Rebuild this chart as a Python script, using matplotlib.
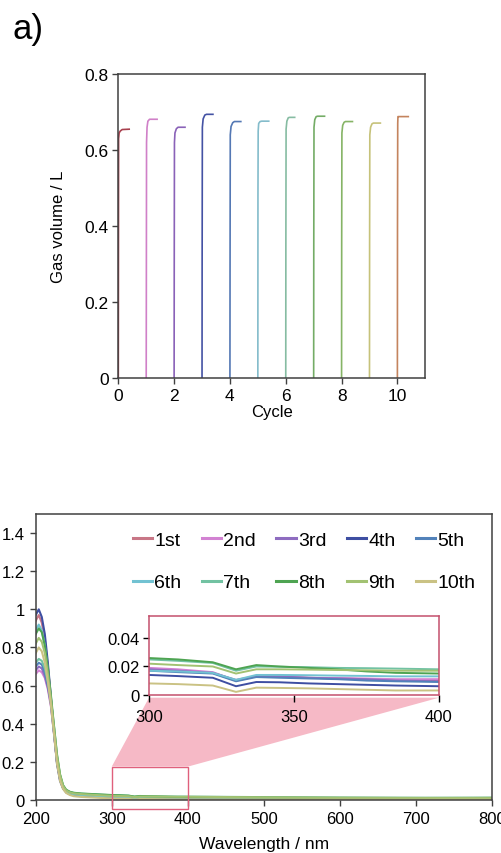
import matplotlib
matplotlib.use("Agg")
import matplotlib.pyplot as plt
from matplotlib.patches import Rectangle, Polygon
from matplotlib.ticker import FuncFormatter

plt.rcParams['font.family'] = ['Liberation Sans', 'DejaVu Sans']

# ---------------- data: panel a (gas volume vs cycle) ----------------
gas_colors = ["#a8404e", "#d080c8", "#8a62b8", "#4452a4", "#5478b4", "#84bccb",
              "#86bca2", "#74ac66", "#86b466", "#c6c27a", "#c4845e"]
gas_x = [
    [0.00, 0.004, 0.010, 0.030, 0.070, 0.140, 0.420],
    [1.00, 1.004, 1.012, 1.030, 1.060, 1.120, 1.420],
    [2.00, 2.004, 2.012, 2.030, 2.080, 2.140, 2.420],
    [3.00, 3.004, 3.012, 3.040, 3.100, 3.160, 3.420],
    [4.00, 4.004, 4.012, 4.040, 4.100, 4.160, 4.420],
    [5.00, 5.004, 5.012, 5.030, 5.080, 5.140, 5.420],
    [6.00, 6.004, 6.012, 6.040, 6.090, 6.140, 6.350],
    [7.00, 7.004, 7.012, 7.040, 7.090, 7.140, 7.420],
    [8.00, 8.004, 8.012, 8.040, 8.090, 8.140, 8.420],
    [9.00, 9.004, 9.012, 9.040, 9.090, 9.140, 9.420],
    [10.00, 10.004, 10.012, 10.020, 10.050, 10.120, 10.420],
]
gas_v = [
    [0.000, 0.280, 0.630, 0.645, 0.650, 0.654, 0.655],
    [0.000, 0.180, 0.620, 0.660, 0.676, 0.681, 0.681],
    [0.000, 0.280, 0.620, 0.645, 0.656, 0.660, 0.660],
    [0.000, 0.310, 0.660, 0.682, 0.692, 0.694, 0.694],
    [0.000, 0.280, 0.640, 0.662, 0.672, 0.675, 0.675],
    [0.000, 0.480, 0.650, 0.670, 0.675, 0.676, 0.676],
    [0.000, 0.350, 0.655, 0.676, 0.685, 0.686, 0.686],
    [0.000, 0.350, 0.660, 0.680, 0.688, 0.689, 0.689],
    [0.000, 0.350, 0.645, 0.665, 0.673, 0.675, 0.675],
    [0.000, 0.340, 0.640, 0.660, 0.669, 0.671, 0.671],
    [0.000, 0.400, 0.670, 0.688, 0.688, 0.688, 0.688],
]
gas_xticks = [0, 2, 4, 6, 8, 10]
gas_yticks = [0, 0.2, 0.4, 0.6, 0.8]

# ---------------- data: UV-vis spectra ----------------
spec_labels = ["1st", "2nd", "3rd", "4th", "5th", "6th", "7th", "8th", "9th", "10th"]
spec_colors = ["#c87686", "#d282d2", "#8e6cc0", "#3e4ea2", "#5282ba",
               "#72c2d2", "#72c2a2", "#4ea452", "#a2c272", "#cac284"]
wavelength = [200, 204, 208, 212, 216, 220, 224, 228, 232, 236, 240, 245, 250, 260, 280,
              300, 310, 322, 330, 337, 345, 355, 365, 375, 385, 400, 500, 600, 700, 800]
abs_1st = [0.94, 0.97, 0.93, 0.84, 0.70, 0.53, 0.36, 0.20, 0.11, 0.066, 0.045, 0.035, 0.030, 0.026, 0.022,
           0.018, 0.017, 0.0155, 0.010, 0.013, 0.0128, 0.012, 0.0115, 0.011, 0.0105, 0.010, 0.008, 0.007, 0.006, 0.005]
abs_2nd = [0.66, 0.68, 0.67, 0.64, 0.58, 0.49, 0.35, 0.20, 0.11, 0.066, 0.046, 0.036, 0.031, 0.027, 0.023,
           0.019, 0.018, 0.016, 0.010, 0.013, 0.0128, 0.012, 0.0118, 0.0115, 0.011, 0.011, 0.009, 0.008, 0.007, 0.006]
abs_3rd = [0.68, 0.70, 0.69, 0.65, 0.59, 0.50, 0.35, 0.20, 0.11, 0.066, 0.045, 0.035, 0.030, 0.026, 0.022,
           0.018, 0.017, 0.0155, 0.0105, 0.0132, 0.013, 0.012, 0.0115, 0.011, 0.010, 0.0095, 0.008, 0.007, 0.006, 0.005]
abs_4th = [0.97, 1.00, 0.96, 0.87, 0.72, 0.54, 0.36, 0.19, 0.10, 0.060, 0.040, 0.030, 0.025, 0.021, 0.017,
           0.014, 0.0132, 0.012, 0.006, 0.009, 0.0088, 0.008, 0.0075, 0.007, 0.0065, 0.006, 0.005, 0.004, 0.004, 0.003]
abs_5th = [0.70, 0.72, 0.71, 0.67, 0.60, 0.51, 0.36, 0.20, 0.11, 0.064, 0.044, 0.034, 0.029, 0.025, 0.021,
           0.017, 0.016, 0.015, 0.0095, 0.0125, 0.012, 0.0115, 0.011, 0.010, 0.0095, 0.009, 0.007, 0.006, 0.005, 0.005]
abs_6th = [0.89, 0.92, 0.89, 0.81, 0.68, 0.52, 0.36, 0.21, 0.115, 0.068, 0.046, 0.035, 0.030, 0.026, 0.021,
           0.017, 0.0165, 0.0155, 0.0105, 0.014, 0.014, 0.0138, 0.0135, 0.0133, 0.013, 0.013, 0.011, 0.010, 0.009, 0.008]
abs_7th = [0.72, 0.74, 0.73, 0.69, 0.62, 0.53, 0.39, 0.23, 0.13, 0.075, 0.052, 0.042, 0.037, 0.033, 0.029,
           0.025, 0.024, 0.0225, 0.017, 0.020, 0.0198, 0.0195, 0.019, 0.0188, 0.0185, 0.018, 0.015, 0.013, 0.012, 0.011]
abs_8th = [0.87, 0.90, 0.88, 0.81, 0.69, 0.55, 0.39, 0.24, 0.135, 0.078, 0.054, 0.043, 0.038, 0.034, 0.030,
           0.026, 0.025, 0.023, 0.018, 0.021, 0.020, 0.019, 0.018, 0.0165, 0.0155, 0.015, 0.013, 0.011, 0.010, 0.012]
abs_9th = [0.82, 0.85, 0.83, 0.77, 0.66, 0.53, 0.38, 0.23, 0.13, 0.074, 0.050, 0.040, 0.035, 0.031, 0.026,
           0.022, 0.021, 0.020, 0.015, 0.018, 0.018, 0.0178, 0.0175, 0.0173, 0.017, 0.017, 0.014, 0.012, 0.011, 0.010]
abs_10th = [0.77, 0.80, 0.78, 0.72, 0.62, 0.50, 0.35, 0.19, 0.10, 0.058, 0.037, 0.026, 0.020, 0.016, 0.012,
            0.008, 0.0075, 0.0065, 0.002, 0.005, 0.0048, 0.0045, 0.004, 0.0035, 0.003, 0.003, 0.002, 0.002, 0.001, 0.001]
spectra = [abs_1st, abs_2nd, abs_3rd, abs_4th, abs_5th, abs_6th, abs_7th, abs_8th, abs_9th, abs_10th]
spec_xticks = [200, 300, 400, 500, 600, 700, 800]
spec_yticks = [0, 0.2, 0.4, 0.6, 0.8, 1.0, 1.2, 1.4]
inset_xticks = [300, 350, 400]
inset_yticks = [0, 0.02, 0.04]
zoom_box = [300, 400, -0.045, 0.175]

# ---------------- figure ----------------
W, H = 502, 854
fig = plt.figure(figsize=(W / 100, H / 100), dpi=100)
fmt = FuncFormatter(lambda v, p: "%g" % v)
spine_col = "#404040"

def fx(px):
    return px / W

def fy(py):
    return 1 - py / H

# panel a
ax1 = fig.add_axes([fx(118.3), fy(379.3), fx(425.3) - fx(118.3), fy(75) - fy(379.3)])
for xs, vs, c in zip(gas_x, gas_v, gas_colors):
    ax1.plot(xs, vs, color=c, lw=1.2, solid_capstyle='butt')
ax1.set_xlim(0, 11)
ax1.set_ylim(0, 0.8)
ax1.set_xticks(gas_xticks)
ax1.set_yticks(gas_yticks)
ax1.yaxis.set_major_formatter(fmt)
ax1.tick_params(direction='out', length=4, width=1, labelsize=12.5, pad=3, color=spine_col)
for s in ax1.spines.values():
    s.set_color(spine_col)
    s.set_linewidth(1.1)
ax1.set_xlabel("Cycle", fontsize=12, labelpad=1)
ax1.set_ylabel("Gas volume / L", fontsize=12, labelpad=13)
fig.text(fx(13), fy(30), "a)", fontsize=25, va='center', ha='left')

# spectra main
ax2 = fig.add_axes([fx(35.7), fy(801), fx(492) - fx(35.7), fy(515) - fy(801)])
lines = []
for vals, c, lab in zip(spectra, spec_colors, spec_labels):
    ln, = ax2.plot(wavelength, vals, color=c, lw=1.5, label=lab)
    lines.append(ln)
ax2.set_xlim(200, 800)
ax2.set_ylim(0, 1.5)
ax2.set_xticks(spec_xticks)
ax2.set_yticks(spec_yticks)
ax2.yaxis.set_major_formatter(fmt)
ax2.tick_params(direction='out', length=4, width=1, labelsize=12, pad=4, color=spine_col)
for s in ax2.spines.values():
    s.set_color(spine_col)
    s.set_linewidth(1.1)
ax2.set_xlabel("Wavelength / nm", fontsize=12.5, labelpad=7)

box_col = "#e0607c"
ax2.add_patch(Rectangle((zoom_box[0], zoom_box[2]), zoom_box[1] - zoom_box[0],
                        zoom_box[3] - zoom_box[2], fill=False, edgecolor=box_col,
                        lw=1.0, clip_on=False, zorder=5))

# legend entries laid out row by row (matplotlib fills columns first)
ncol = 5
order = [r * ncol + c for c in range(ncol) for r in range(2)]
leg = ax2.legend(handles=[lines[i] for i in order], ncol=ncol, frameon=False, fontsize=14,
                 handlelength=1.0, handletextpad=0.1, columnspacing=1.05, labelspacing=1.3,
                 borderpad=0, borderaxespad=0, loc='upper left',
                 bbox_to_anchor=(fx(133), fy(532)), bbox_transform=fig.transFigure)
for h in leg.get_lines():
    h.set_linewidth(2.2)

# inset
axin = fig.add_axes([fx(149), fy(695.7), fx(439) - fx(149), fy(616.7) - fy(695.7)], zorder=3)
for vals, c in zip(spectra, spec_colors):
    axin.plot(wavelength, vals, color=c, lw=1.4)
axin.set_xlim(300, 400)
axin.set_ylim(0, 0.056)
axin.set_xticks(inset_xticks)
axin.set_yticks(inset_yticks)
axin.yaxis.set_major_formatter(fmt)
axin.tick_params(axis='y', direction='out', length=4, width=1, labelsize=12, pad=3)
axin.tick_params(axis='x', direction='out', length=5, width=1, labelsize=12, pad=5)
inset_col = "#c4506c"
for s in axin.spines.values():
    s.set_color(inset_col)
    s.set_linewidth(1.1)

# pink connection polygon
fig.canvas.draw()
inv = fig.transFigure.inverted()
p1 = inv.transform(ax2.transData.transform((zoom_box[0], zoom_box[3])))
p2 = inv.transform(ax2.transData.transform((zoom_box[1], zoom_box[3])))
p3 = inv.transform(axin.transAxes.transform((1, 0)))
p4 = inv.transform(axin.transAxes.transform((0, 0)))
p3[1] -= 3 / H
p4[1] -= 3 / H
poly = Polygon([p1, p4, p3, p2], closed=True, facecolor="#f6b9c6", edgecolor='none',
               transform=fig.transFigure, zorder=1)
fig.add_artist(poly)
ax2.set_zorder(0)

fig.savefig("out.png", dpi=100)
